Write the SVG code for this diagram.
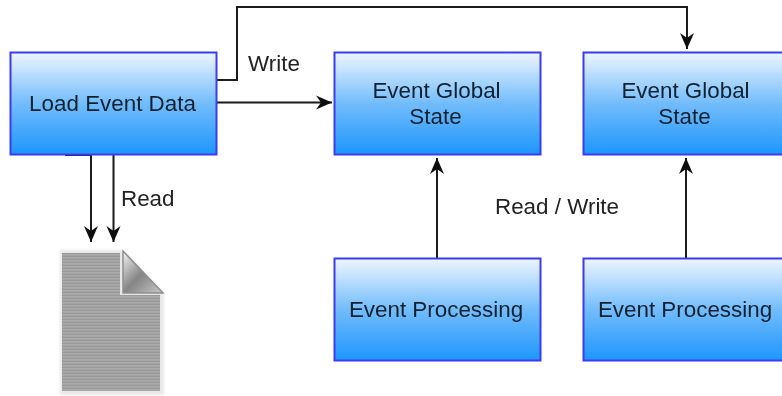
<svg xmlns="http://www.w3.org/2000/svg" width="782" height="396" viewBox="0 0 782 396">
<style>
.box{fill:url(#blue);stroke:#3a3af5;stroke-width:2}
.t{font-family:"Liberation Sans",Arial,sans-serif;font-size:22.4px;fill:#10202e;text-anchor:middle}
.l{font-family:"Liberation Sans",Arial,sans-serif;font-size:22.4px;fill:#222}
.c{fill:none;stroke:#1a1a1a;stroke-width:2}
.soft{filter:url(#soft)}
</style>
<defs>
<linearGradient id="blue" x1="0" y1="0" x2="0" y2="1">
<stop offset="0" stop-color="#eef6fe"/><stop offset=".5" stop-color="#72bcfb"/><stop offset="1" stop-color="#1e96fd"/>
</linearGradient>
<linearGradient id="fold" x1="0" y1="0" x2="1" y2="1">
<stop offset="0" stop-color="#f4f4f4"/><stop offset=".5" stop-color="#858585"/><stop offset="1" stop-color="#c8c8c8"/>
</linearGradient>
<pattern id="lines" width="100" height="3" patternUnits="userSpaceOnUse">
<rect width="100" height="3" fill="#aaaaaa"/>
<rect y="0.800" width="100" height="0.800" fill="#8e8e8e"/>
</pattern>
<filter id="soft" x="-10%" y="-10%" width="120%" height="120%"><feGaussianBlur stdDeviation="0.5"/></filter>
<filter id="shadow" x="-10%" y="-10%" width="120%" height="120%"><feGaussianBlur stdDeviation="1.5"/></filter>
<marker id="arr" markerUnits="userSpaceOnUse" markerWidth="20" markerHeight="18" refX="16" refY="8" orient="auto">
<path d="M0 1L16 8L0 15L5 8Z" fill="#111"/>
</marker>
</defs>
<g id="connectors" class="soft">
<path class="c" d="M217 80H237V7H687V49" marker-end="url(#arr)"/>
<path class="c" d="M217 102.500H332" marker-end="url(#arr)"/>
<path class="c" d="M65 155H91V242" marker-end="url(#arr)"/>
<path class="c" d="M113.500 155V242" marker-end="url(#arr)"/>
<path class="c" d="M437 258V158" marker-end="url(#arr)"/>
<path class="c" d="M686 258V158" marker-end="url(#arr)"/>
</g>
<g id="load-event-data" class="soft"><rect class="box" x="10.500" y="52.500" width="206" height="102"/><text class="t" x="112.500" y="111">Load Event Data</text></g>
<g id="global-state-1" class="soft"><rect class="box" x="334.500" y="52.500" width="206" height="102"/><text class="t" x="436.500" y="97.500">Event Global</text><text class="t" x="435.500" y="124">State</text></g>
<g id="global-state-2" class="soft"><rect class="box" x="583.500" y="52.500" width="206" height="102"/><text class="t" x="685.500" y="97.500">Event Global</text><text class="t" x="684.500" y="124">State</text></g>
<g id="processing-1" class="soft"><rect class="box" x="334.500" y="258.500" width="206" height="102"/><text class="t" x="436" y="317">Event Processing</text></g>
<g id="processing-2" class="soft"><rect class="box" x="583.500" y="258.500" width="206" height="102"/><text class="t" x="685" y="317">Event Processing</text></g>
<g id="document">
<path d="M60 250H123L164 293V395H60Z" fill="#d8d8d8" opacity=".6" filter="url(#shadow)"/>
<path d="M62 253H120V295H160V391H62Z" fill="url(#lines)" filter="url(#soft)"/>
<path d="M123 251V293H163Z" fill="url(#fold)" stroke="#8e8e8e" stroke-width="1.500" class="soft"/>
</g>
<g id="labels" class="soft">
<text class="l" x="248" y="71">Write</text>
<text class="l" x="121" y="206">Read</text>
<text class="l" x="495" y="214">Read / Write</text>
</g>
</svg>
